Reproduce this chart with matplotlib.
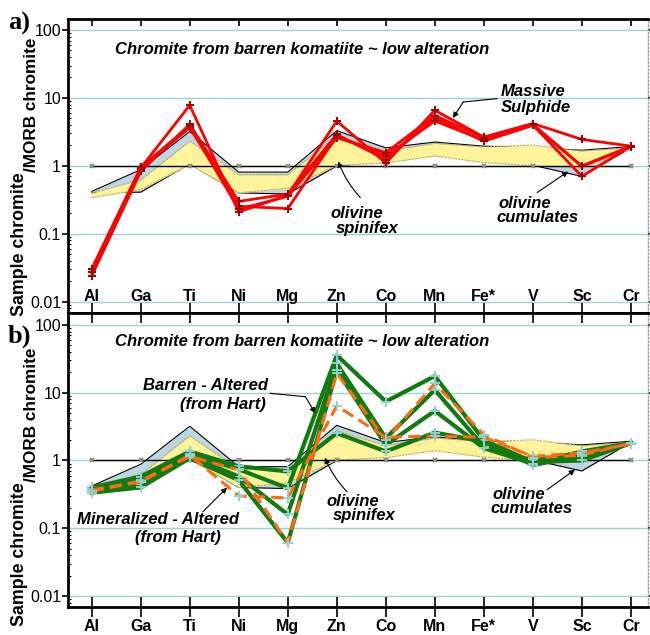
import numpy as np
import matplotlib
matplotlib.use("Agg")
import matplotlib.pyplot as plt
from matplotlib.ticker import FixedLocator, FixedFormatter, LogLocator, NullFormatter

plt.rcParams['font.family'] = ['Liberation Sans', 'DejaVu Sans']

elements = ["Al", "Ga", "Ti", "Ni", "Mg", "Zn", "Co", "Mn", "Fe*", "V", "Sc", "Cr"]
morb = [1, 1, 1, 1, 1, 1, 1, 1, 1, 1, 1, 1]

# olivine cumulates envelope (blue)
cum_hi = [0.42, 0.88, 3.2, 0.81, 0.81, 3.3, 1.84, 2.24, 1.95, 1.84, 1.70, 1.92]
cum_lo = [0.40, 0.41, 1.07, 0.40, 0.385, 1.0, 1.17, 1.52, 1.17, 1.02, 0.70, 1.85]
# olivine spinifex envelope (yellow)
spx_hi = [0.40, 0.62, 2.31, 0.74, 0.74, 2.74, 1.65, 2.14, 1.90, 2.02, 1.65, 1.85]
spx_lo = [0.34, 0.45, 1.05, 0.40, 0.47, 1.02, 1.10, 1.40, 1.12, 1.00, 0.93, 1.80]

# panel a: massive sulphide chromites
ms_1 = [0.030, 0.93, 7.8, 0.21, 0.37, 4.57, 1.10, 6.57, 2.65, 4.2, 2.45, 1.95]
ms_2 = [0.024, 0.83, 4.08, 0.30, 0.385, 2.9, 1.24, 5.1, 2.3, 3.95, 0.99, 1.95]
ms_3 = [0.027, 0.90, 3.64, 0.254, 0.235, 2.74, 1.39, 4.57, 2.4, 4.0, 0.70, 1.95]
ms_4 = [0.030, 0.95, 3.9, 0.23, 0.356, 2.59, 1.56, 5.5, 2.6, 4.1, 0.99, 1.90]

# panel b: barren - altered (green, solid)
ba_1 = [0.40, 0.58, 1.36, 0.82, 0.69, 2.53, 1.36, 2.58, 1.90, 0.86, 1.15, 1.80]
ba_2 = [0.38, 0.52, 1.25, 0.74, 0.39, 35.8, 7.4, 17.6, 2.0, 0.95, 1.0, 1.80]
ba_3 = [0.36, 0.45, 1.15, 0.58, 0.16, 27.0, 2.13, 11.0, 1.6, 1.0, 1.3, 1.80]
ba_4 = [0.335, 0.40, 1.08, 0.51, 0.061, 21.6, 1.7, 5.4, 1.52, 0.90, 1.36, 1.80]
# panel b: mineralized - altered (orange, dashed)
ma_1 = [0.37, 0.48, 1.20, 0.30, 0.28, 6.4, 2.2, 2.3, 2.2, 1.15, 1.30, 1.75]
ma_2 = [0.35, 0.50, 1.15, 0.72, 0.061, 19.3, 2.0, 13.7, 2.4, 1.10, 1.20, 1.80]

W, H = 650, 635
fig = plt.figure(figsize=(6.5, 6.35), dpi=100)

def fx(px):
    return px / W

def fy(py):
    return 1 - py / H

left, right = 68, 648
axa = fig.add_axes([fx(left), fy(312.5), fx(right - left), (312.5 - 19) / H])
axb = fig.add_axes([fx(left), fy(606.7), fx(right - left), (606.7 - 312.5) / H])

x = np.arange(len(elements))
grid_c = '#9fd3d3'
blue_c = '#bdd6e3'
yel_c = '#fff49a'

for ax, ylim in ((axa, (10 ** -2.159, 10 ** 2.162)), (axb, (10 ** -2.158, 10 ** 2.184))):
    ax.set_yscale('log')
    ax.set_xlim(-0.484, 11.35)
    ax.set_ylim(*ylim)
    for v in [0.01, 0.1, 1, 10, 100]:
        ax.axhline(v, color=grid_c, lw=1.0, zorder=0)
    ax.fill_between(x, cum_lo, cum_hi, color=blue_c, lw=0, zorder=1)
    ax.plot(x, cum_hi, color='k', lw=0.8, zorder=2)
    ax.plot(x, cum_lo, color='k', lw=0.8, zorder=2)
    ax.fill_between(x, spx_lo, spx_hi, color=yel_c, lw=0, zorder=3)
    ax.plot(x, spx_hi, color='#b9a95c', lw=0.8, ls=(0, (2, 1)), zorder=3.5)
    ax.plot(x, spx_lo, color='#b9a95c', lw=0.8, ls=(0, (2, 1)), zorder=3.5)
    ax.plot(x, morb, color='k', lw=1.0, marker='x', ms=3.5, mew=1.4, mec='#8a8a8a', zorder=4)

    ax.yaxis.set_major_locator(FixedLocator([0.01, 0.1, 1, 10, 100]))
    ax.yaxis.set_major_formatter(FixedFormatter(['0.01', '0.1', '1', '10', '100']))
    ax.yaxis.set_minor_locator(LogLocator(base=10, subs=np.arange(2, 10), numticks=20))
    ax.yaxis.set_minor_formatter(NullFormatter())
    ax.tick_params(axis='y', which='major', direction='out', length=4, width=1.2,
                   labelsize=11.5, pad=1, left=True, right=True)
    ax.tick_params(axis='y', which='minor', direction='in', length=2.5, width=0.8,
                   left=True, right=False)
    ax.set_xticks(x)
    ax.spines['left'].set_linewidth(2.0)
    ax.spines['right'].set_color('#9a9a9a')
    ax.spines['right'].set_linestyle(':')
    ax.spines['right'].set_linewidth(1.0)
    ax.spines['top'].set_linewidth(2.0)
    ax.spines['bottom'].set_linewidth(2.0)

# panel a lines
for s in (ms_1, ms_2, ms_3, ms_4):
    axa.plot(x, s, color='#ff0000', lw=2.0, marker='+', ms=6, mew=1.4, mec='#a00000', zorder=6)

axa.set_xticklabels(elements, fontweight='bold', fontsize=11.5)
axa.tick_params(axis='x', direction='in', length=5, width=1.2, top=True, bottom=False,
                labelbottom=True, pad=-17)

# panel b lines
lines_b = [(ba_1, 'g'), (ma_1, 'o'), (ba_2, 'g'), (ma_2, 'o'), (ba_3, 'g'), (ba_4, 'g')]
for s, kind in lines_b:
    if kind == 'g':
        axb.plot(x, s, color='#117a11', lw=3.0, marker='+', ms=7, mew=1.4, mec='#8fd2d2', zorder=6)
    else:
        axb.plot(x, s, color='#ff6a12', lw=2.2, ls=(0, (4, 2)), marker='+', ms=7, mew=1.4,
                 mec='#8fd2d2', zorder=6.5)

axb.set_xticklabels(elements, fontweight='bold', fontsize=11.5)
axb.tick_params(axis='x', direction='inout', length=14, width=1.2, top=True, bottom=True, pad=2)

# text
tfont = dict(fontsize=12, fontweight='bold', fontstyle='italic')
title = "Chromite from barren komatiite ~ low alteration"
axa.text(0.476, 43.6, title, ha='left', va='baseline', **tfont)
axb.text(0.476, 49.3, title, ha='left', va='baseline', **tfont)

axa.text(8.34, 10.6, "Massive", ha='left', va='baseline', **tfont)
axa.text(8.34, 6.16, "Sulphide", ha='left', va='baseline', **tfont)
axa.plot([8.27, 7.58], [9.77, 8.7], color='k', lw=0.8, zorder=7)
axa.annotate('', xy=(7.37, 5.07), xytext=(7.58, 8.7),
             arrowprops=dict(arrowstyle='-|>', lw=0.8, color='k', mutation_scale=8,
                             shrinkA=0, shrinkB=0), zorder=7)

for ax, yo, ys, yc1, yc2, xs in ((axa, 0.1715, 0.103, 0.240, 0.148, (4.87, 4.99, 8.29, 8.25)),
                                  (axb, 0.2095, 0.133, 0.269, 0.167, (4.80, 4.92, 8.17, 8.13))):
    ax.text(xs[0], yo, "olivine", ha='left', va='baseline', **tfont)
    ax.text(xs[1], ys, "spinifex", ha='left', va='baseline', **tfont)
    ax.text(xs[2], yc1, "olivine", ha='left', va='baseline', **tfont)
    ax.text(xs[3], yc2, "cumulates", ha='left', va='baseline', **tfont)

arr = dict(arrowstyle='-|>', lw=0.8, color='k', mutation_scale=8, shrinkA=0, shrinkB=0)
axa.annotate('', xy=(5.03, 1.16), xytext=(5.48, 0.342),
             arrowprops=dict(connectionstyle='arc3,rad=-0.1', **arr), zorder=7)
axa.annotate('', xy=(9.72, 0.825), xytext=(9.09, 0.405), arrowprops=arr, zorder=7)
axb.annotate('', xy=(4.76, 1.1), xytext=(5.21, 0.346),
             arrowprops=dict(connectionstyle='arc3,rad=-0.1', **arr), zorder=7)
axb.annotate('', xy=(9.86, 0.73), xytext=(9.29, 0.37), arrowprops=arr, zorder=7)

axb.text(3.60, 11.05, "Barren - Altered", ha='right', va='baseline', **tfont)
axb.text(3.56, 5.74, "(from Hart)", ha='right', va='baseline', **tfont)
axb.plot([3.64, 4.36], [9.8, 8.73], color='k', lw=0.8, zorder=7)
axb.annotate('', xy=(4.56, 4.98), xytext=(4.36, 8.73), arrowprops=arr, zorder=7)

axb.text(-0.30, 0.115, "Mineralized - Altered", ha='left', va='baseline', **tfont)
axb.text(0.884, 0.0637, "(from Hart)", ha='left', va='baseline', **tfont)
axb.annotate('', xy=(2.76, 0.397), xytext=(2.27, 0.176), arrowprops=arr, zorder=7)

# panel labels
fig.text(fx(8), fy(30), "a)", fontsize=19, fontweight='bold', family='Liberation Serif',
         ha='left', va='baseline')
fig.text(fx(8), fy(343), "b)", fontsize=19, fontweight='bold', family='Liberation Serif',
         ha='left', va='baseline')

# y labels: "Sample chromite" with "/MORB chromite" set lower (subscript-like)
for yj in (172, 482):
    fig.text(fx(20), fy(yj), "Sample chromite", rotation=90, rotation_mode='anchor',
             fontsize=12.8, fontweight='bold', ha='right', va='center')
    fig.text(fx(31), fy(yj), "/MORB chromite", rotation=90, rotation_mode='anchor',
             fontsize=12.3, fontweight='bold', ha='left', va='center')

fig.savefig('out.png', dpi=100)
